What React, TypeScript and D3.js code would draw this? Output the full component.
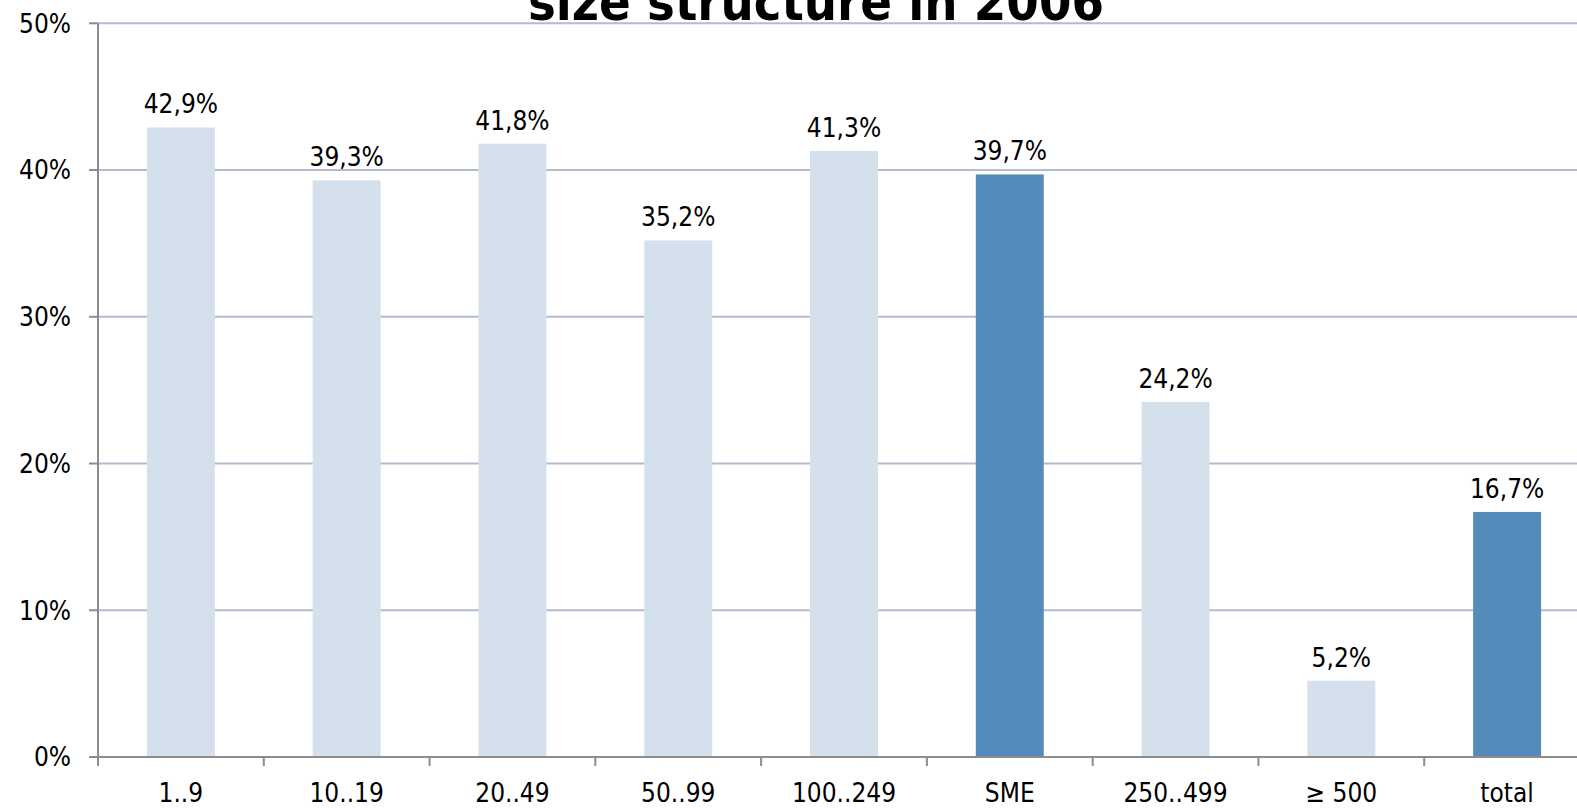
import React, { useEffect, useRef } from "react";
import * as d3 from "d3";

const categories = ["1..9", "10..19", "20..49", "50..99", "100..249", "SME", "250..499", "\u2265 500", "total"];
const shares = [42.9, 39.3, 41.8, 35.2, 41.3, 39.7, 24.2, 5.2, 16.7];
const highlighted = ["SME", "total"];
const yTicks = [0, 10, 20, 30, 40, 50];
const chartTitle = "size structure in 2006";

const W = 1577, H = 808;
const left = 98, right = 1590, top = 23.3, bottom = 757;
const FONT = "'DejaVu Sans Condensed', 'DejaVu Sans', sans-serif";

export default function App() {
  const ref = useRef<SVGSVGElement | null>(null);

  useEffect(() => {
    const svg = d3.select(ref.current);
    svg.selectAll("*").remove();

    const x = d3.scaleBand<string>().domain(categories).range([left, right])
      .paddingInner(0.59).paddingOuter(0.295);
    const y = d3.scaleLinear().domain([0, 50]).range([bottom, top]);
    const step = x.step();
    const offset = (step - x.bandwidth()) / 2;

    // gridlines
    svg.append("g").selectAll("line").data(yTicks.filter(t => t > 0)).join("line")
      .attr("x1", left).attr("x2", W)
      .attr("y1", d => y(d)).attr("y2", d => y(d))
      .attr("stroke", "#B6BACE").attr("stroke-width", 2);

    // y ticks + labels
    svg.append("g").selectAll("line").data(yTicks).join("line")
      .attr("x1", left - 9).attr("x2", left)
      .attr("y1", d => y(d)).attr("y2", d => y(d))
      .attr("stroke", "#8C8C8C").attr("stroke-width", 2);
    svg.append("g").selectAll("text").data(yTicks).join("text")
      .attr("x", 71).attr("y", d => y(d)).attr("dy", "0.36em")
      .attr("text-anchor", "end").style("font-family", FONT).style("font-size", "26px")
      .attr("fill", "#000").text(d => d + "%");

    // bars
    svg.append("g").selectAll("rect").data(categories).join("rect")
      .attr("x", d => x(d)!).attr("width", x.bandwidth())
      .attr("y", (d, i) => y(shares[i]))
      .attr("height", (d, i) => bottom - y(shares[i]))
      .attr("fill", d => highlighted.includes(d) ? "#558BBA" : "#D4E1EC");

    // value labels
    svg.append("g").selectAll("text").data(categories).join("text")
      .attr("x", d => x(d)! + x.bandwidth() / 2)
      .attr("y", (d, i) => y(shares[i]) - 14)
      .attr("text-anchor", "middle").style("font-family", FONT).style("font-size", "26px")
      .attr("fill", "#000").text((d, i) => shares[i].toFixed(1).replace(".", ",") + "%");

    // axes lines
    svg.append("line").attr("x1", left).attr("x2", left).attr("y1", top).attr("y2", bottom)
      .attr("stroke", "#8C8C8C").attr("stroke-width", 2);
    svg.append("line").attr("x1", left - 9).attr("x2", W).attr("y1", bottom).attr("y2", bottom)
      .attr("stroke", "#8C8C8C").attr("stroke-width", 2);

    // x ticks at band boundaries
    svg.append("g").selectAll("line").data(categories).join("line")
      .attr("x1", d => x(d)! - offset).attr("x2", d => x(d)! - offset)
      .attr("y1", bottom).attr("y2", bottom + 9)
      .attr("stroke", "#8C8C8C").attr("stroke-width", 2);

    // category labels
    svg.append("g").selectAll("text").data(categories).join("text")
      .attr("x", d => x(d)! + x.bandwidth() / 2).attr("y", 802)
      .attr("text-anchor", "middle").style("font-family", FONT).style("font-size", "26px")
      .attr("fill", "#000").text(d => d);

    // title
    svg.append("text").attr("x", 816).attr("y", 20).attr("text-anchor", "middle")
      .style("font-family", FONT).style("font-size", "52px").style("font-weight", "bold")
      .attr("fill", "#000").text(chartTitle);
  }, []);

  return (
    <svg ref={ref} width={W} height={H}
      style={{ position: "absolute", left: 0, top: 0, background: "#fff" }} />
  );
}
